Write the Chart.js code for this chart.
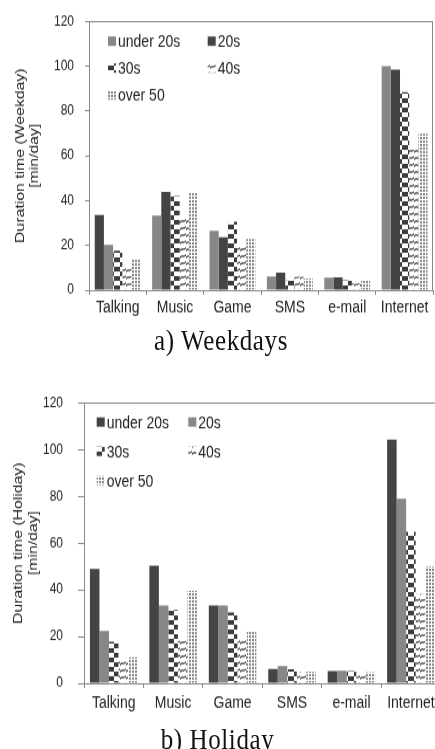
<!DOCTYPE html>
<html>
<head>
<meta charset="utf-8">
<script src="https://cdn.jsdelivr.net/npm/chart.js@4.4.1/dist/chart.umd.min.js"></script>
<style>
  html, body { margin: 0; padding: 0; background: #fff; overflow: hidden; width: 435px; height: 749px; }
  #page { width: 445px; transform: scaleY(1.17); transform-origin: 0 0; }
  canvas { display: block; }
  .caption { font-family: "Liberation Serif", serif; font-size: 25px; letter-spacing: 0.6px; color: #111; text-align: center; width: 435px; box-sizing: border-box; }
</style>
</head>
<body>
<div id="page">
  <canvas id="chartWeekday" width="435" height="276" style="width:435px;height:276px"></canvas>
  <div class="caption" style="height:30px;line-height:30px;padding-left:7px">a) Weekdays</div>
  <canvas id="chartHoliday" width="445" height="308" style="width:445px;height:308px"></canvas>
  <div class="caption" style="height:36px;line-height:36px">b) Holiday</div>
</div>
<script>
const categories = ['Talking', 'Music', 'Game', 'SMS', 'e-mail', 'Internet'];
const ageGroups = ['under 20s', '20s', '30s', '40s', 'over 50'];
const yTicks = [0, 20, 40, 60, 80, 100, 120];

// Weekday [min/day]
const weekdayUnder20 = [33.5, 33.3, 26.5, 6.2, 5.6, 100.0];
const weekday20s = [20.3, 43.8, 23.6, 7.8, 5.8, 98.4];
const weekday30s = [17.6, 42.0, 30.5, 4.3, 4.4, 88.4];
const weekday40s = [10.6, 32.0, 20.3, 6.0, 3.0, 62.6];
const weekdayOver50 = [13.6, 43.5, 22.9, 5.2, 4.5, 69.8];

// Holiday [min/day]
const holidayUnder20 = [49.0, 50.3, 33.3, 6.1, 5.3, 104.3];
const holiday20s = [22.4, 33.3, 33.3, 7.4, 5.4, 79.0];
const holiday30s = [17.8, 31.4, 30.3, 6.0, 5.2, 64.8];
const holiday40s = [10.3, 18.3, 19.0, 5.0, 4.0, 38.2];
const holidayOver50 = [11.1, 39.6, 22.1, 5.0, 4.7, 50.0];

Chart.defaults.font.family = '"Liberation Sans", Arial, sans-serif';

const DARK = '#444444';
const GRAY = '#878787';

function makePattern(w, h, draw) {
    const c = document.createElement('canvas');
    c.width = w;
    c.height = h;
    const g = c.getContext('2d');
    g.fillStyle = '#fff';
    g.fillRect(0, 0, w, h);
    draw(g);
    return g.createPattern(c, 'repeat');
}

// 30s: checkered
const checkered = makePattern(12, 8, g => {
    g.fillStyle = '#3c3c3c';
    g.fillRect(0, 0, 6, 4);
    g.fillRect(6, 4, 6, 4);
});
// 40s: wavy lines
const wavy = makePattern(6, 6, g => {
    g.strokeStyle = '#3a3a3a';
    g.lineWidth = 1.3;
    g.beginPath();
    g.moveTo(0, 4.5);
    g.bezierCurveTo(2, 1, 4, 5, 6, 1.5);
    g.stroke();
});
// over 50: dots
const dotted = makePattern(3, 3, g => {
    g.fillStyle = '#8c8c8c';
    g.fillRect(0, 0, 2, 2);
});

// frame round the plot area + legend inside it
const frameAndLegend = {
    id: 'frameAndLegend',
    afterDraw(chart, args, opts) {
        const { ctx, chartArea: a } = chart;
        ctx.save();
        ctx.strokeStyle = '#888';
        ctx.lineWidth = 1;
        ctx.strokeRect(Math.round(a.left) + 0.5, Math.round(a.top) + 0.5, Math.round(a.right - a.left) - 1, Math.round(a.bottom - a.top));
        ctx.font = '14px "Liberation Sans", Arial, sans-serif';
        ctx.textBaseline = 'middle';
        chart.data.datasets.forEach((ds, i) => {
            const x = a.left + opts.x + (i % 2) * opts.colW;
            const y = a.top + opts.y + Math.floor(i / 2) * opts.rowH;
            ctx.fillStyle = ds.legendColor;
            ctx.fillRect(x, y - 4, 8, 8);
            ctx.fillStyle = '#222';
            ctx.fillText(ds.label, x + 10, y + 1);
        });
        ctx.restore();
    }
};

function buildChart(id, series, colors, legendColors, cfg) {
    const ctx = document.getElementById(id).getContext('2d');
    return new Chart(ctx, {
        type: 'bar',
        data: {
            labels: categories,
            datasets: series.map((data, i) => ({
                label: ageGroups[i],
                data: data,
                backgroundColor: colors[i],
                legendColor: legendColors[i],
                borderWidth: 0,
                categoryPercentage: 0.8,
                barPercentage: 1.0,
            })),
        },
        options: {
            responsive: false,
            animation: false,
            layout: { padding: { top: cfg.padTop, right: cfg.padRight, left: 0, bottom: 0 } },
            plugins: {
                legend: { display: false },
                tooltip: { enabled: false },
                frameAndLegend: cfg.legend,
            },
            scales: {
                x: {
                    grid: { offset: true, drawOnChartArea: false, tickLength: 4, color: '#888' },
                    border: { color: '#888' },
                    ticks: { color: '#222', font: { size: 14 }, padding: cfg.xPad, maxRotation: 0 },
                    afterFit: s => { s.height = cfg.xHeight; },
                },
                y: {
                    min: 0,
                    max: 120,
                    afterBuildTicks: s => { s.ticks = yTicks.map(v => ({ value: v })); },
                    grid: { drawOnChartArea: false, tickLength: cfg.yTickLen, color: '#888' },
                    border: { color: '#888' },
                    ticks: { color: '#222', font: { size: 12 }, padding: cfg.yPad },
                    title: {
                        display: true,
                        text: cfg.title,
                        color: '#222',
                        font: { size: 13.5, lineHeight: cfg.titleLH },
                        padding: { top: cfg.titlePad, bottom: 0 },
                    },
                    afterFit: s => { s.width = cfg.yWidth; },
                },
            },
        },
        plugins: [frameAndLegend],
    });
}

// Weekday chart (the Talking group has its first two shades swapped in the source)
const chartWeekday = buildChart('chartWeekday',
    [weekdayUnder20, weekday20s, weekday30s, weekday40s, weekdayOver50],
    [
        [DARK, GRAY, GRAY, GRAY, GRAY, GRAY],
        [GRAY, DARK, DARK, DARK, DARK, DARK],
        checkered, wavy, dotted,
    ],
    [GRAY, DARK, checkered, wavy, dotted],
    {
        padTop: 15.6, padRight: 1.7, xHeight: 28, xPad: 3, yTickLen: 4, yPad: 11, yWidth: 89,
        title: ['Duration time (Weekday)', '[min/day]'], titleLH: '14px', titlePad: 13,
        legend: { x: 19, y: 17, colW: 99.7, rowH: 23 },
    });

// Holiday chart
const chartHoliday = buildChart('chartHoliday',
    [holidayUnder20, holiday20s, holiday30s, holiday40s, holidayOver50],
    [DARK, GRAY, checkered, wavy, dotted],
    [DARK, GRAY, checkered, wavy, dotted],
    {
        padTop: 38.4, padRight: 4.4, xHeight: 30, xPad: 5, yTickLen: 6, yPad: 15, yWidth: 84,
        title: ['Duration time (Holiday)', '[min/day]'], titleLH: '15px', titlePad: 10.5,
        legend: { x: 12.7, y: 16.3, colW: 91.6, rowH: 25 },
    });
</script>
</body>
</html>
